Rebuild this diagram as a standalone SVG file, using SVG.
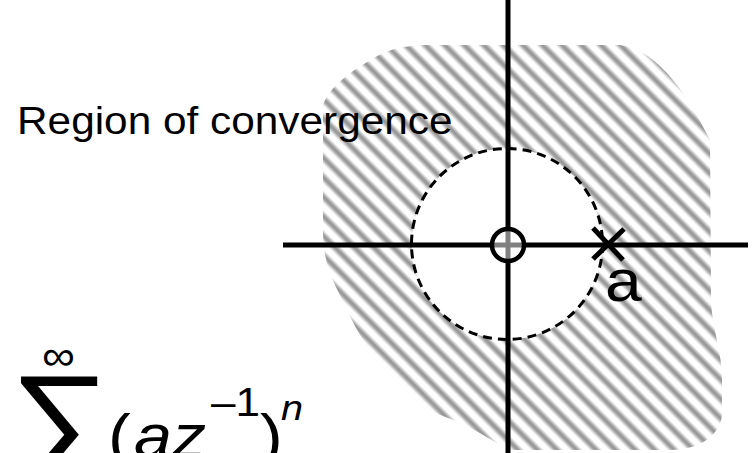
<svg xmlns="http://www.w3.org/2000/svg" width="755" height="453" viewBox="0 0 755 453">
  <defs>
    <linearGradient id="stripeGrad" x1="0" y1="0" x2="0" y2="1">
      <stop offset="0" stop-color="#ffffff"/>
      <stop offset="0.18" stop-color="#ffffff"/>
      <stop offset="0.45" stop-color="#999999"/>
      <stop offset="0.58" stop-color="#999999"/>
      <stop offset="0.85" stop-color="#ffffff"/>
      <stop offset="1" stop-color="#ffffff"/>
    </linearGradient>
    <pattern id="hatch" patternUnits="userSpaceOnUse" width="13.8" height="13.8" patternTransform="rotate(45)">
      <rect x="0" y="0" width="13.8" height="13.8" fill="url(#stripeGrad)"/>
    </pattern>
  </defs>
  <style>
    .txt { font-family: "Liberation Sans", Arial, sans-serif; fill: #000; }
    .ax { stroke: #000; stroke-width: 5; fill: none; }
  </style>
  <rect width="755" height="453" fill="#ffffff"/>

  <g id="region">
    <path d="M 383,53 C 400,46 415,45 435,45 L 620,45 C 660,50 690,100 710,140 L 711,300 C 712,330 722,350 722,380 L 722,415 C 720,435 700,450 670,450 L 510,450 C 490,440 470,425 440,415 C 420,405 395,380 370,350 C 355,330 345,305 335,285 C 326,265 323,250 323,230 L 323,105 C 330,85 355,68 383,53 Z" fill="url(#hatch)"/>
  </g>

  <g id="unit-circle">
    <circle cx="507" cy="244" r="95.5" fill="#ffffff" stroke="#000" stroke-width="3" stroke-dasharray="9 6"/>
  </g>

  <g id="label-region">
    <text class="txt" font-size="38.5" transform="translate(17,134) scale(1.1,1)">Region of convergence</text>
  </g>

  <g id="axes">
    <line class="ax" x1="283" y1="245" x2="748" y2="245"/>
    <line class="ax" x1="508" y1="0" x2="508" y2="453"/>
  </g>

  <g id="zero">
    <circle cx="508" cy="245" r="16" fill="#ffffff" fill-opacity="0.5" stroke="#000" stroke-width="4.5"/>
  </g>

  <g id="pole">
    <line class="ax" x1="593" y1="228" x2="623" y2="260"/>
    <line class="ax" x1="624" y1="229" x2="593" y2="259"/>
    <text class="txt" font-size="60" transform="translate(605,301) scale(1.1,1)">a</text>
  </g>

  <g id="formula">
    <text class="txt" font-size="42" text-anchor="middle" transform="translate(58.5,370) scale(1.1,1)">∞</text>
    <text class="txt" font-size="130" transform="translate(9,466) scale(1.1,1)">∑</text>
    <text class="txt" font-size="62" transform="translate(108,457) scale(1.1,1)">(</text>
    <text class="txt" font-size="62" font-style="italic" transform="translate(134,457) scale(1.1,1)">az</text>
    <text class="txt" font-size="40" transform="translate(211,416) scale(1.1,1)">–1</text>
    <text class="txt" font-size="62" transform="translate(260,457) scale(1.1,1)">)</text>
    <text class="txt" font-size="36" font-style="italic" transform="translate(281,420) scale(1.1,1)">n</text>
  </g>
</svg>
